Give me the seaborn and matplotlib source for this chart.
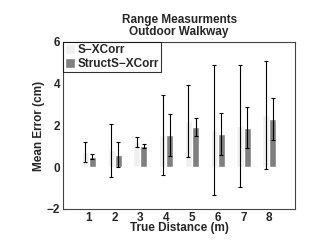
import numpy as np
import pandas as pd
import matplotlib
matplotlib.use("Agg")
import matplotlib.pyplot as plt
import seaborn as sns

# values
distances = ["1", "2", "3", "4", "5", "6", "7", "8"]
sx_mean = [0.72, 0.80, 1.22, 1.55, 2.22, 1.78, 1.98, 2.49]
sx_err = [0.48, 1.25, 0.25, 1.90, 1.72, 3.12, 2.93, 2.59]
st_mean = [0.50, 0.60, 1.02, 1.55, 1.92, 1.58, 1.90, 2.30]
st_err = [0.12, 0.60, 0.10, 1.00, 0.42, 1.00, 1.00, 1.00]
methods = ["S\u2212XCorr", "StructS\u2212XCorr"]
colors = ["#f0f0f0", "#7f7f7f"]

df = pd.DataFrame({
    "dist": distances * 2,
    "mean": sx_mean + st_mean,
    "err": sx_err + st_err,
    "method": [methods[0]] * 8 + [methods[1]] * 8,
})

sns.set_style("white")
plt.rcParams["font.family"] = ["Liberation Sans", "DejaVu Sans"]
plt.rcParams["font.weight"] = "bold"
fs = 8.5

fig = plt.figure(figsize=(3.12, 2.41), dpi=100)
ax = fig.add_axes([0.202, 0.133, 0.744, 0.693])

sns.barplot(data=df, x="dist", y="mean", hue="method", palette=colors,
            width=0.55, errorbar=None, saturation=1, ax=ax)

# error bars at each bar center
bars = ax.patches[:16]
for i, p in enumerate(bars):
    xc = p.get_x() + p.get_width() / 2
    ax.errorbar(xc, df["mean"][i], yerr=df["err"][i], fmt="none",
                ecolor="black", elinewidth=0.8, capsize=1.5, capthick=0.8)

ax.set_xlim(-1, 8)
ax.set_ylim(-2, 6)
ax.set_yticks([-2, 0, 2, 4, 6])
ax.tick_params(labelsize=fs, length=2, direction="in", pad=2)
for lab in ax.get_xticklabels() + ax.get_yticklabels():
    lab.set_fontweight("bold")
ax.set_xlabel("True Distance (m)", fontsize=fs, fontweight="bold", labelpad=-1)
ax.set_ylabel("Mean Error (cm)", fontsize=fs, fontweight="bold", labelpad=1)
ax.set_title("Range Measurments\nOutdoor Walkway", fontsize=fs,
             fontweight="bold", pad=5, linespacing=1.05)
for s in ax.spines.values():
    s.set_color("#444444")
    s.set_linewidth(0.8)

leg = ax.legend(loc="upper left", borderaxespad=0, fontsize=fs,
                frameon=True, fancybox=False, handlelength=0.9,
                handleheight=0.9, handletextpad=0.2, borderpad=0.15,
                labelspacing=0.2)
leg.get_frame().set_edgecolor("black")
leg.get_frame().set_linewidth(0.8)
for t in leg.get_texts():
    t.set_fontweight("bold")

fig.savefig("out.png", dpi=100)
